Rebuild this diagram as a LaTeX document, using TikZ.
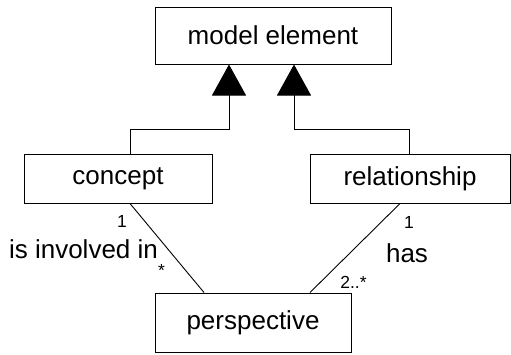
\documentclass[tikz,border=0pt]{standalone}
\usepackage{fontspec}
\setmainfont{Liberation Sans}
\usetikzlibrary{arrows.meta}
\begin{document}
\begin{tikzpicture}[x=1pt,y=-1pt,
  box/.style={draw=black,line width=1pt,inner sep=0pt,minimum width=#1,
    font=\fontsize{26}{31}\selectfont},
  lbl/.style={inner sep=0pt,anchor=base,font=\fontsize{26}{31}\selectfont},
  mult/.style={inner sep=0pt,anchor=base,font=\fontsize{17.5}{21}\selectfont},
  gen/.style={line width=1pt,-{Triangle[length=31pt,width=34pt]}},
  assoc/.style={line width=0.9pt}]
\useasboundingbox (0,0) rectangle (511,354);
% classes
\node[box=236pt,minimum height=57pt] (model) at (273,35.5) {model element};
\node[box=188pt,minimum height=49pt] (concept) at (118,178.5) {concept};
\node[box=200pt,minimum height=49pt] (relationship) at (410,178.5) {relationship};
\node[box=196pt,minimum height=59pt] (perspective) at (253,322.5) {perspective};
% generalisation bends
\coordinate (ca) at (130,129);
\coordinate (cb) at (229,129);
\coordinate (ra) at (409,129);
\coordinate (rb) at (294,129);
\draw[gen] (ca |- concept.north) -- (ca) -- (cb) -- (cb |- model.south);
\draw[gen] (ra |- relationship.north) -- (ra) -- (rb) -- (rb |- model.south);
% associations
\coordinate (cs) at (130,0);
\coordinate (pl) at (204,0);
\coordinate (rs) at (400,0);
\coordinate (pr) at (310,0);
\draw[assoc] (cs |- concept.south) -- (pl |- perspective.north);
\draw[assoc] (rs |- relationship.south) -- (pr |- perspective.north);
% association labels
\node[mult] (c1) at (122,227) {1};
\node[lbl] (inv) at (83.5,258) {is involved in};
\node[mult] (cstar) at (161.5,276) {*};
\node[mult] (r1) at (409,228.5) {1};
\node[lbl] (has) at (407,262) {has};
\node[mult] (r2) at (353.5,288) {2..*};
\end{tikzpicture}
\end{document}
